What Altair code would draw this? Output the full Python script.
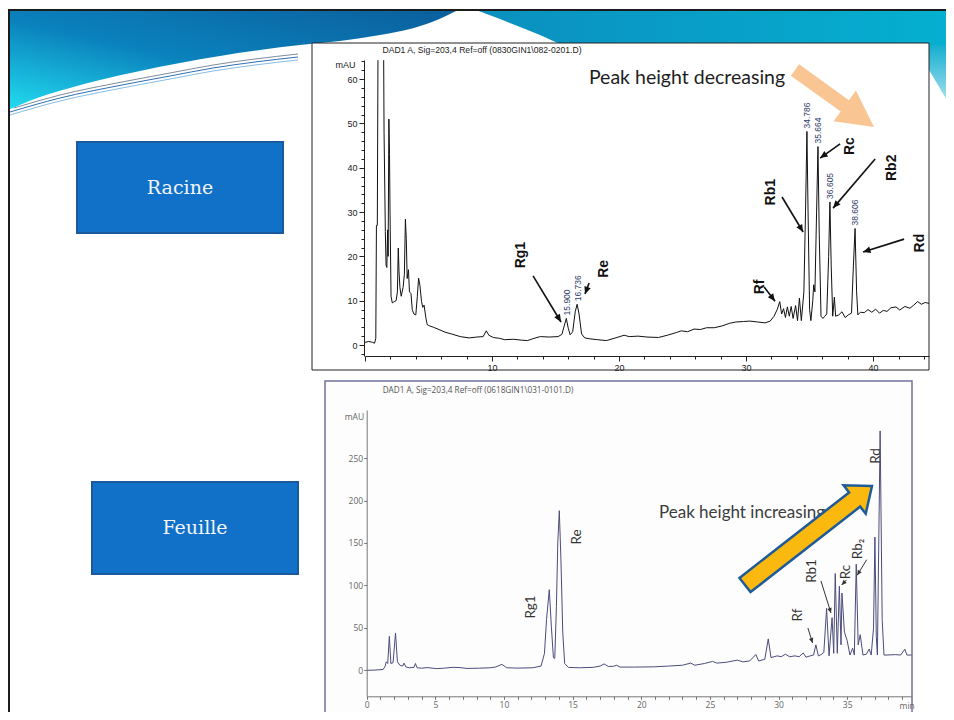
import math
import altair as alt
import pandas as pd

# ------------------------------------------------------------------ values
ROOT_TITLE = "DAD1 A, Sig=203,4 Ref=off (0830GIN1\\082-0201.D)"
LEAF_TITLE = "DAD1 A, Sig=203,4 Ref=off (0618GIN1\\031-0101.D)"
PANEL_LABELS = ["Racine", "Feuille"]
NOTE_DOWN = "Peak height decreasing"
NOTE_UP = "Peak height increasing"

# Racine chromatogram: (time min, mAU). Solvent front leaves the plot (off-scale)
ROOT_FRONT = [(0.0, 0.6), (0.3, 0.8), (0.6, 0.6), (0.75, 0.4), (0.85, 1.5), (0.9, 27.0),
              (0.97, 27.0), (1.02, 64.3)]
ROOT_TRACE = [
    (1.47, 64.3), (1.50, 48), (1.56, 35), (1.60, 25.6), (1.66, 18), (1.72, 17.5), (1.78, 26),
    (1.82, 20), (1.88, 51), (1.93, 43), (1.97, 30), (2.05, 11), (2.15, 9.5), (2.30, 9.8),
    (2.45, 10), (2.55, 12), (2.62, 21.9), (2.68, 16.5), (2.75, 13), (2.85, 11), (3.00, 13),
    (3.10, 16), (3.18, 28.4), (3.25, 24), (3.32, 15), (3.42, 17), (3.50, 12), (3.62, 11.6),
    (3.72, 8), (3.85, 7), (4.00, 6.8), (4.12, 11), (4.22, 15.1), (4.32, 13.5), (4.45, 9.8),
    (4.55, 8.5), (4.65, 9), (4.80, 6), (4.90, 4.6), (5.10, 4.3), (5.40, 4.0), (5.90, 3.4),
    (6.30, 2.9), (6.80, 2.5), (7.50, 1.9), (8.20, 1.6), (8.80, 1.8), (9.30, 1.9), (9.55, 3.2),
    (9.75, 2.2), (10.1, 1.7), (10.6, 1.5), (11.0, 1.2), (11.7, 1.3), (12.3, 1.1), (12.8, 1.0),
    (13.3, 1.5), (13.8, 1.9), (14.5, 1.8), (15.2, 1.9), (15.5, 2.4), (15.7, 4.5), (15.85, 6.0),
    (16.0, 3.8), (16.15, 2.3), (16.35, 3.0), (16.55, 7.5), (16.7, 9.2), (16.85, 7.0),
    (17.05, 2.5), (17.3, 1.6), (17.7, 1.4), (18.3, 1.2), (19.0, 1.0), (19.6, 1.5), (20.4, 2.2),
    (20.8, 1.9), (21.5, 2.0), (22.2, 1.8), (23.1, 1.7), (23.8, 2.2), (24.5, 2.8), (24.9, 3.2),
    (25.4, 3.0), (25.9, 3.6), (26.4, 3.5), (26.9, 3.9), (27.5, 3.9), (28.1, 4.3), (28.7, 4.9),
    (29.2, 5.2), (29.8, 5.3), (30.3, 5.4), (30.9, 5.2), (31.5, 5.0), (31.9, 5.4), (32.2, 6.5),
    (32.45, 8.0), (32.65, 9.8), (32.8, 7.0), (32.95, 8.2), (33.1, 6.2), (33.25, 8.6),
    (33.4, 6.5), (33.55, 8.7), (33.7, 6.0), (33.9, 8.9), (34.05, 5.5), (34.2, 10.6),
    (34.35, 5.5), (34.55, 12), (34.68, 30), (34.79, 48.2), (34.88, 30), (35.0, 8), (35.1, 5.5),
    (35.25, 10), (35.32, 13.6), (35.42, 12), (35.55, 30), (35.66, 44.8), (35.76, 25),
    (35.9, 6.5), (36.05, 6.0), (36.2, 6.5), (36.35, 7.0), (36.5, 20), (36.6, 32.3), (36.7, 18),
    (36.82, 6.5), (36.95, 10.8), (37.05, 6.5), (37.3, 6.8), (37.55, 7.5), (37.8, 6.2),
    (38.05, 6.8), (38.3, 7.2), (38.45, 18), (38.58, 26.3), (38.7, 12), (38.8, 6.8), (39.0, 7.4),
    (39.3, 7.3), (39.6, 8.0), (39.9, 7.4), (40.2, 8.1), (40.5, 7.2), (40.8, 7.8), (41.1, 7.6),
    (41.4, 8.4), (41.8, 8.6), (42.1, 7.9), (42.5, 8.7), (42.9, 8.3), (43.2, 9.0), (43.5, 9.8),
    (43.8, 9.2), (44.1, 9.6), (44.4, 9.4)]
ROOT_PEAK_T = [15.900, 16.736, 34.786, 35.664, 36.605, 38.606]
ROOT_PEAK_V = [6.0, 9.2, 48.2, 44.8, 32.3, 26.3]
ROOT_NAMES = ["Rg1", "Re", "Rf", "Rb1", "Rc", "Rb2", "Rd"]
ROOT_NAME_AT = [(12.28, 20.3), (18.82, 17.2), (31.1, 13.1), (31.95, 34.5), (38.19, 44.9),
                (41.5, 40.0), (43.7, 23.0)]
ROOT_ARROWS = [(13.23, 15.6, 15.43, 5.2), (17.64, 14.0, 17.32, 11.5), (31.42, 13.1, 32.28, 9.9),
               (32.83, 33.4, 34.49, 25.5), (37.4, 45.4, 35.83, 42.2), (40.16, 42.0, 36.85, 30.9),
               (42.44, 23.9, 39.21, 21.0)]

# Feuille chromatogram: (time min, mAU)
LEAF_TRACE = [
    (0.0, 0.0), (0.6, 0.3), (1.2, 1.0), (1.35, 5.0), (1.42, 10.0), (1.53, 8.0), (1.65, 40.0),
    (1.76, 8.0), (1.92, 9.0), (2.10, 44.0), (2.24, 10.0), (2.42, 6.0), (2.62, 5.0), (2.72, 8.5),
    (2.85, 4.0), (3.10, 3.0), (3.45, 3.5), (3.55, 8.0), (3.67, 3.0), (4.0, 2.5), (4.4, 3.2),
    (5.1, 2.0), (5.6, 2.5), (6.3, 3.5), (6.8, 3.2), (7.3, 2.2), (8.2, 2.5), (9.0, 3.0),
    (9.4, 4.0), (9.85, 7.0), (10.2, 3.0), (11.0, 2.6), (12.1, 3.0), (12.7, 5.0), (12.95, 20.0),
    (13.1, 60.0), (13.3, 95.0), (13.45, 52.0), (13.6, 15.0), (13.7, 14.0), (13.82, 75.0),
    (13.92, 150.0), (14.03, 188.0), (14.15, 130.0), (14.28, 45.0), (14.42, 8.0), (14.7, 3.4),
    (15.5, 3.0), (16.5, 3.5), (17.0, 5.0), (17.3, 7.5), (17.6, 4.5), (18.0, 4.8), (18.2, 6.0),
    (18.45, 3.8), (19.5, 3.8), (20.9, 4.1), (22.0, 5.0), (23.0, 6.0), (23.6, 8.5), (23.9, 6.0),
    (24.6, 8.0), (25.2, 10.5), (25.5, 8.5), (26.2, 9.5), (27.0, 12.0), (27.4, 10.0),
    (27.9, 11.0), (28.35, 18.6), (28.55, 11.0), (29.0, 13.0), (29.25, 37.0), (29.45, 15.0),
    (29.9, 17.0), (30.2, 16.0), (30.5, 19.0), (30.8, 16.0), (31.2, 17.0), (31.5, 16.0),
    (31.8, 20.5), (32.0, 15.5), (32.3, 17.0), (32.55, 18.0), (32.72, 30.0), (32.9, 17.0),
    (33.1, 18.5), (33.3, 21.0), (33.5, 73.0), (33.68, 17.0), (33.9, 62.0), (34.02, 20.0),
    (34.13, 114.0), (34.28, 20.0), (34.43, 99.0), (34.55, 30.0), (34.62, 91.0), (34.8, 45.0),
    (35.0, 35.0), (35.2, 18.0), (35.4, 26.0), (35.52, 18.0), (35.66, 125.0), (35.8, 30.0),
    (35.95, 42.0), (36.15, 18.0), (36.4, 19.0), (36.6, 25.0), (36.75, 18.0), (36.92, 50.0),
    (37.02, 157.0), (37.12, 40.0), (37.2, 18.0), (37.4, 282.0), (37.55, 60.0), (37.68, 18.0),
    (37.9, 18.0), (38.5, 18.5), (38.9, 18.0), (39.2, 25.0), (39.35, 18.0), (39.7, 18.0)]
LEAF_NAMES = ["Rg1", "Re", "Rf", "Rb1", "Rc", "Rb\u2082", "Rd"]
LEAF_NAME_AT = [(11.97, 74.6), (15.32, 157.0), (31.41, 65.1), (32.43, 117.0), (34.91, 115.8),
                (35.78, 142.9), (37.1, 252.4)]
LEAF_ARROWS = [(32.14, 49.8, 32.48, 32.2), (33.09, 105.2, 33.82, 67.5),
               (34.95, 106.5, 34.6, 100.5), (36.42, 130.3, 35.73, 111.9)]

ROOT_X_TICKS = list(range(0, 45, 2))
ROOT_Y_TICKS = list(range(-2, 65, 2))
LEAF_X_TICKS = list(range(0, 40))
LEAF_Y_TICKS = [0, 50, 100, 150, 200, 250]

# ------------------------------------------------------------------ layout
W, H = 938, 704                      # drawing area (page 954x720 minus 8px margin)
PX = alt.Scale(domain=[0, 954], range=[-8, 946], nice=False, zero=False)
PY = alt.Scale(domain=[0, 720], range=[-8, 712], nice=False, zero=False)

ROOT_SC = (([0, 44.4], [357, 921]), ([-2.48, 64.33], [348, 52]))
LEAF_SC = (([0, 39.7], [358.7, 903.7]), ([-30.6, 306.6], [688.3, 402]))

HEADER_L = [(8, 110), (20, 105), (40, 97), (70, 88), (100, 80), (140, 71), (180, 63), (220, 56),
            (260, 50), (300, 45), (340, 41), (380, 35), (410, 29), (432, 22), (448, 15), (458, 10)]
HEADER_R = [(476, 10), (500, 19), (520, 27), (540, 35), (562, 45), (954, 45)]
HEADER_EDGE = [(929, 45), (954, 45)]
HEADER_EDGE_LOW = [(929, 70), (954, 112)]
SWOOSH = {
    "#2f6fb5": [(10, 112), (60, 98), (122, 85), (170, 76), (213, 68), (255, 62), (298, 57)],
    "#86bde6": [(10, 115), (60, 101), (122, 88), (170, 79), (213, 71), (255, 65), (298, 60)],
    "#7f8d9c": [(14, 108), (60, 95), (122, 82), (170, 73), (213, 65), (255, 59), (298, 54)],
}
BOXES = [(77, 142, 283, 233), (92, 482, 298, 574)]
BOX_TEXT_AT = [(180, 188), (195, 528)]
ROOT_FRAME = (312, 43, 929, 370)
LEAF_FRAME = (325, 381, 912, 718)
ROOT_TITLE_AT = (482, 50)
LEAF_TITLE_AT = (478, 391)
NOTE_DOWN_AT = (687, 78)
NOTE_UP_AT = (742, 513)
PEACH = dict(tail=(795, 70), tip=(874, 127), shaft=14, head_w=38, head_l=36)
GOLD = dict(tail=(745, 585), tip=(872, 486), shaft=18, head_w=36, head_l=22)


def lx(f):
    return alt.X(f, type="quantitative", scale=PX, axis=None)


def ly(f):
    return alt.Y(f, type="quantitative", scale=PY, axis=None)


def cx(sc, f, axis=None):
    d, r = sc[0]
    return alt.X(f, type="quantitative", axis=axis,
                 scale=alt.Scale(domain=d, range=r, nice=False, zero=False))


def cy(sc, f, axis=None):
    d, r = sc[1]
    return alt.Y(f, type="quantitative", axis=axis,
                 scale=alt.Scale(domain=d, range=r, nice=False, zero=False))


def to_px(sc, t, v):
    (xd, xr), (yd, yr) = sc
    return (xr[0] + (t - xd[0]) / (xd[1] - xd[0]) * (xr[1] - xr[0]),
            yr[0] + (v - yd[0]) / (yd[1] - yd[0]) * (yr[1] - yr[0]))


def heading(p0, p1):
    return math.degrees(math.atan2(p1[1] - p0[1], p1[0] - p0[0])) % 360


def arrow_path(length, shaft, head_w, head_l):
    u = length / 2.0
    hl, hw, sw = head_l / u, head_w / 2 / u, shaft / 2 / u
    return (f"M0,0L{-hl:.4f},{-hw:.4f}L{-hl:.4f},{-sw:.4f}L-2,{-sw:.4f}L-2,{sw:.4f}"
            f"L{-hl:.4f},{sw:.4f}L{-hl:.4f},{hw:.4f}Z")


layers = []

# ---- slide header
hl = pd.DataFrame(HEADER_L, columns=["x", "y"]).assign(top=10)
layers.append(alt.Chart(hl).mark_area(
    opacity=1, interpolate="monotone",
    color=alt.LinearGradient(gradient="linear", x1=1, y1=0, x2=0, y2=1, stops=[
        alt.GradientStop(color="#0b5e9c", offset=0),
        alt.GradientStop(color="#0a82bd", offset=0.55),
        alt.GradientStop(color="#22dcef", offset=1)])
).encode(x=lx("x"), y=ly("y"), y2=alt.Y2("top")))

hr = pd.DataFrame(HEADER_R, columns=["x", "y"]).assign(top=10)
layers.append(alt.Chart(hr).mark_area(
    opacity=1,
    color=alt.LinearGradient(gradient="linear", x1=0, y1=0, x2=1, y2=0, stops=[
        alt.GradientStop(color="#0b8fbf", offset=0),
        alt.GradientStop(color="#05b0d0", offset=1)])
).encode(x=lx("x"), y=ly("y"), y2=alt.Y2("top")))

he = pd.DataFrame({"x": [p[0] for p in HEADER_EDGE_LOW], "y": [p[1] for p in HEADER_EDGE_LOW],
                   "top": [p[1] for p in HEADER_EDGE]})
layers.append(alt.Chart(he).mark_area(
    opacity=1,
    color=alt.LinearGradient(gradient="linear", x1=0, y1=0, x2=0, y2=1, stops=[
        alt.GradientStop(color="#14aed0", offset=0),
        alt.GradientStop(color="#bfe9f3", offset=1)])
).encode(x=lx("x"), y=ly("y"), y2=alt.Y2("top")))

sw_rows = []
for col, pts in SWOOSH.items():
    for i, (x, y) in enumerate(pts):
        sw_rows.append({"x": x, "y": y, "col": col, "i": i})
layers.append(alt.Chart(pd.DataFrame(sw_rows)).mark_line(strokeWidth=1, interpolate="monotone").encode(
    x=lx("x"), y=ly("y"), detail="col:N", color=alt.Color("col:N", scale=None), order="i:Q"))

border = pd.DataFrame({"x": [8, 9], "x2": [954, 9], "y": [10, 10], "y2": [10, 720]})
layers.append(alt.Chart(border).mark_rule(color="#1c1c1c", strokeWidth=2).encode(
    x=lx("x"), x2=alt.X2("x2"), y=ly("y"), y2=alt.Y2("y2")))

# ---- blue label boxes
bx = pd.DataFrame(BOXES, columns=["x", "y", "x2", "y2"])
layers.append(alt.Chart(bx).mark_rect(fill="#1170c7", stroke="#185a9b", strokeWidth=2).encode(
    x=lx("x"), x2=alt.X2("x2"), y=ly("y"), y2=alt.Y2("y2")))
bt = pd.DataFrame({"x": [p[0] for p in BOX_TEXT_AT], "y": [p[1] for p in BOX_TEXT_AT],
                   "t": PANEL_LABELS})
layers.append(alt.Chart(bt).mark_text(font="DejaVu Serif", fontSize=19, color="#f2f6fc").encode(
    x=lx("x"), y=ly("y"), text="t:N"))

# ---- chromatogram frames + titles
fr = pd.DataFrame([ROOT_FRAME], columns=["x", "y", "x2", "y2"])
layers.append(alt.Chart(fr).mark_rect(fill="white", stroke="#222222", strokeWidth=1).encode(
    x=lx("x"), x2=alt.X2("x2"), y=ly("y"), y2=alt.Y2("y2")))
fr2 = pd.DataFrame([LEAF_FRAME], columns=["x", "y", "x2", "y2"])
layers.append(alt.Chart(fr2).mark_rect(fill="#fdfdfd", stroke="#70709a", strokeWidth=1.5).encode(
    x=lx("x"), x2=alt.X2("x2"), y=ly("y"), y2=alt.Y2("y2")))

layers.append(alt.Chart(pd.DataFrame({"x": [ROOT_TITLE_AT[0]], "y": [ROOT_TITLE_AT[1]],
                                      "t": [ROOT_TITLE]})).mark_text(
    font="Liberation Sans", fontSize=8.6, color="#222222").encode(x=lx("x"), y=ly("y"), text="t:N"))
layers.append(alt.Chart(pd.DataFrame({"x": [LEAF_TITLE_AT[0]], "y": [LEAF_TITLE_AT[1]],
                                      "t": [LEAF_TITLE]})).mark_text(
    font="Open Sans", fontSize=8.2, color="#555555").encode(x=lx("x"), y=ly("y"), text="t:N"))

# ---- Racine chromatogram
root_df = pd.concat([
    pd.DataFrame(ROOT_FRONT, columns=["t", "v"]).assign(seg="a"),
    pd.DataFrame(ROOT_TRACE, columns=["t", "v"]).assign(seg="b")], ignore_index=True)
root_xaxis = alt.Axis(
    orient="bottom", offset=ROOT_SC[1][1][0] - H, values=ROOT_X_TICKS, zindex=2,
    labelExpr="datum.value % 10 == 0 && datum.value > 0 ? datum.label : ''",
    tickSize={"condition": {"test": "datum.value % 10 == 0", "value": 5}, "value": 3},
    tickColor="#222", domainColor="#222", labelColor="#222", labelFont="Liberation Sans",
    labelFontSize=9, labelPadding=2, labelFlush=False, labelOverlap=False, grid=False, title=None)
root_yaxis = alt.Axis(
    orient="left", offset=-(ROOT_SC[0][1][0] - 1), values=ROOT_Y_TICKS, zindex=2,
    labelExpr="datum.value % 10 == 0 && datum.value >= 0 ? datum.label : ''",
    tickSize={"condition": {"test": "datum.value % 10 == 0", "value": 5}, "value": 3},
    tickColor="#222", domainColor="#222", labelColor="#222", labelFont="Liberation Sans",
    labelFontSize=9, labelPadding=2, labelFlush=False, labelOverlap=False, grid=False,
    title="mAU", titleAngle=0, titleX=-9, titleY=56, titleAlign="right", titleBaseline="middle",
    titleFont="Liberation Sans", titleFontSize=9, titleFontWeight="normal", titleColor="#222")
layers.append(alt.Chart(root_df).mark_line(color="#111111", strokeWidth=1).encode(
    x=cx(ROOT_SC, "t", root_xaxis), y=cy(ROOT_SC, "v", root_yaxis), detail="seg:N"))

pk = pd.DataFrame({"t": ROOT_PEAK_T, "v": ROOT_PEAK_V,
                   "lab": [f"{t:.3f}" for t in ROOT_PEAK_T]})
layers.append(alt.Chart(pk).mark_text(
    angle=270, align="left", baseline="middle", dx=3, font="Liberation Sans", fontSize=8.5,
    color="#2c3a66").encode(x=cx(ROOT_SC, "t"), y=cy(ROOT_SC, "v"), text="lab:N"))

rn = pd.DataFrame({"t": [p[0] for p in ROOT_NAME_AT], "v": [p[1] for p in ROOT_NAME_AT],
                   "lab": ROOT_NAMES})
layers.append(alt.Chart(rn).mark_text(
    angle=270, font="Liberation Sans", fontSize=14, fontWeight="bold", color="#111111").encode(
    x=cx(ROOT_SC, "t"), y=cy(ROOT_SC, "v"), text="lab:N"))

ra = pd.DataFrame(ROOT_ARROWS, columns=["t0", "v0", "t1", "v1"])
ra["ang"] = [heading(to_px(ROOT_SC, a, b), to_px(ROOT_SC, c, d)) for a, b, c, d in ROOT_ARROWS]
layers.append(alt.Chart(ra).mark_rule(color="#111111", strokeWidth=1.6).encode(
    x=cx(ROOT_SC, "t0"), x2=alt.X2("t1"), y=cy(ROOT_SC, "v0"), y2=alt.Y2("v1")))
layers.append(alt.Chart(ra).mark_point(
    shape="M0,0L-2,-0.9L-2,0.9Z", filled=True, color="#111111", size=56, opacity=1,
    strokeWidth=0).encode(x=cx(ROOT_SC, "t1"), y=cy(ROOT_SC, "v1"),
                          angle=alt.Angle("ang:Q", scale=None)))

# ---- Feuille chromatogram
leaf_df = pd.DataFrame(LEAF_TRACE, columns=["t", "v"])
leaf_xaxis = alt.Axis(
    orient="bottom", offset=LEAF_SC[1][1][0] - H, values=LEAF_X_TICKS, zindex=2,
    labelExpr="datum.value % 5 == 0 ? datum.label : ''", tickSize=3,
    tickColor="#777", domainColor="#777", labelColor="#666", labelFont="Open Sans",
    labelFontSize=8.5, labelPadding=1, labelFlush=False, labelOverlap=False, grid=False,
    title="min", titleX=898.7, titleY=9, titleBaseline="middle", titleAlign="center",
    titleFont="Open Sans", titleFontSize=8.5, titleFontWeight="normal", titleColor="#666")
leaf_yaxis = alt.Axis(
    orient="left", offset=-LEAF_SC[0][1][0], values=LEAF_Y_TICKS, tickSize=3, zindex=2,
    tickColor="#777", domainColor="#777", labelColor="#666", labelFont="Open Sans",
    labelFontSize=8.5, labelPadding=1, labelFlush=False, labelOverlap=False, grid=False,
    title="mAU", titleAngle=0, titleX=-3, titleY=408, titleAlign="right", titleBaseline="middle",
    titleFont="Open Sans", titleFontSize=8.5, titleFontWeight="normal", titleColor="#666")
layers.append(alt.Chart(leaf_df).mark_line(color="#4c4c7c", strokeWidth=1).encode(
    x=cx(LEAF_SC, "t", leaf_xaxis), y=cy(LEAF_SC, "v", leaf_yaxis)))

ln = pd.DataFrame({"t": [p[0] for p in LEAF_NAME_AT], "v": [p[1] for p in LEAF_NAME_AT],
                   "lab": LEAF_NAMES})
layers.append(alt.Chart(ln).mark_text(angle=270, font="Lato", fontSize=13.5, color="#333333").encode(
    x=cx(LEAF_SC, "t"), y=cy(LEAF_SC, "v"), text="lab:N"))

la = pd.DataFrame(LEAF_ARROWS, columns=["t0", "v0", "t1", "v1"])
la["ang"] = [heading(to_px(LEAF_SC, a, b), to_px(LEAF_SC, c, d)) for a, b, c, d in LEAF_ARROWS]
layers.append(alt.Chart(la).mark_rule(color="#333333", strokeWidth=1).encode(
    x=cx(LEAF_SC, "t0"), x2=alt.X2("t1"), y=cy(LEAF_SC, "v0"), y2=alt.Y2("v1")))
layers.append(alt.Chart(la).mark_point(
    shape="M0,0L-2,-0.9L-2,0.9Z", filled=True, color="#333333", size=25, opacity=1,
    strokeWidth=0).encode(x=cx(LEAF_SC, "t1"), y=cy(LEAF_SC, "v1"),
                          angle=alt.Angle("ang:Q", scale=None)))

# ---- notes and big arrows
nd = pd.DataFrame({"x": [NOTE_DOWN_AT[0]], "y": [NOTE_DOWN_AT[1]], "t": [NOTE_DOWN]})
layers.append(alt.Chart(nd).mark_text(font="Lato", fontSize=19.5, color="#1e1e1e").encode(
    x=lx("x"), y=ly("y"), text="t:N"))
nu = pd.DataFrame({"x": [NOTE_UP_AT[0]], "y": [NOTE_UP_AT[1]], "t": [NOTE_UP]})
layers.append(alt.Chart(nu).mark_text(font="Lato", fontSize=17, color="#3c3c3c").encode(
    x=lx("x"), y=ly("y"), text="t:N"))

for spec, fill, stroke, sw in [(PEACH, "#f9c592", None, 0), (GOLD, "#fbb80f", "#1f5b98", 2.5)]:
    (x0, y0), (x1, y1) = spec["tail"], spec["tip"]
    L = math.hypot(x1 - x0, y1 - y0)
    kw = dict(shape=arrow_path(L, spec["shaft"], spec["head_w"], spec["head_l"]),
              size=L * L, angle=heading((x0, y0), (x1, y1)), filled=True, fill=fill,
              opacity=1, strokeWidth=sw)
    if stroke:
        kw["stroke"] = stroke
    layers.append(alt.Chart(pd.DataFrame({"x": [x1], "y": [y1]})).mark_point(**kw).encode(
        x=lx("x"), y=ly("y")))

chart = alt.layer(*layers).resolve_scale(x="independent", y="independent").properties(
    width=W, height=H, autosize=alt.AutoSizeParams(type="none"), padding=0, background="white"
).configure_view(strokeWidth=0, stroke="transparent")

chart.save("out.html", embed_options={"renderer": "svg", "actions": False})
